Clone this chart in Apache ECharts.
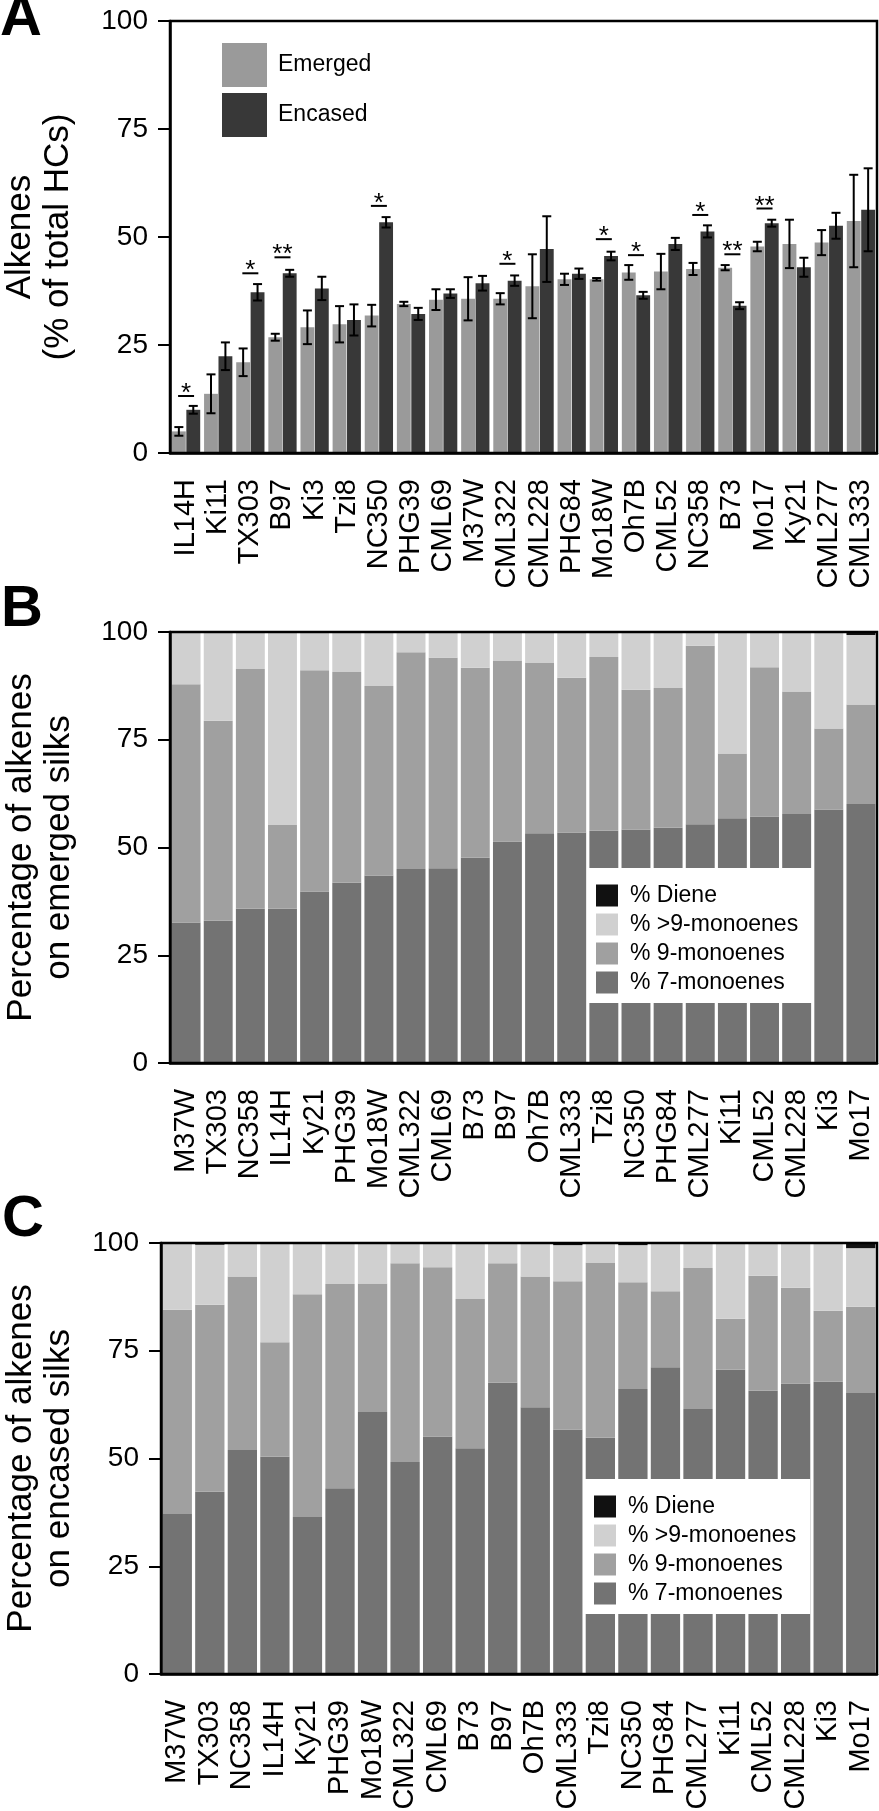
<!DOCTYPE html>
<html><head><meta charset="utf-8">
<script src="https://cdn.jsdelivr.net/npm/echarts@6/dist/echarts.min.js"></script>
<style>html,body{margin:0;padding:0;background:#fff}#c{width:879px;height:1811px}</style>
</head><body><div id="c"></div>
<script>
// ---------- Panel A data ----------
const catsA = ['IL14H','Ki11','TX303','B97','Ki3','Tzi8','NC350','PHG39','CML69','M37W','CML322','CML228','PHG84','Mo18W','Oh7B','CML52','NC358','B73','Mo17','Ky21','CML277','CML333'];
const emerged    = [5.0,13.7,21.0,26.8,29.1,29.8,31.8,34.5,35.5,35.7,35.7,38.6,40.2,40.2,41.8,42.0,42.6,42.9,47.8,48.4,48.7,53.7];
const emergedErr = [1.0,4.5,3.2,0.8,3.9,4.2,2.5,0.5,2.4,5.0,1.3,7.4,1.3,0.3,1.7,4.1,1.4,0.6,1.1,5.6,2.9,10.7];
const encased    = [10.0,22.4,37.2,41.6,38.1,30.8,53.4,32.2,36.9,39.3,39.9,47.2,41.5,45.6,36.5,48.4,51.3,34.1,53.2,43.0,52.6,56.3];
const encasedErr = [0.9,3.2,1.9,0.8,2.7,3.6,1.2,1.4,1.0,1.7,1.2,7.6,1.2,1.0,0.8,1.4,1.4,0.8,0.8,2.2,3.0,9.6];
const sigCats   = ['IL14H','TX303','B97','NC350','CML322','Mo18W','Oh7B','NC358','B73','Mo17'];
const sigLevels = [13.2,41.6,45.3,57.2,43.8,49.5,45.8,55.1,46.0,56.6];
const sigMarks  = ['*','*','**','*','*','*','*','*','**','**'];

// ---------- Panels B & C data ----------
const catsBC = ['M37W','TX303','NC358','IL14H','Ky21','PHG39','Mo18W','CML322','CML69','B73','B97','Oh7B','CML333','Tzi8','NC350','PHG84','CML277','Ki11','CML52','CML228','Ki3','Mo17'];
const emSeven = [32.6,33.0,35.8,35.8,39.8,41.8,43.5,45.0,45.2,47.6,51.4,53.3,53.5,53.9,54.2,54.6,55.4,56.8,57.2,57.8,58.8,60.1];
const emNine  = [55.3,46.4,55.6,19.4,51.3,48.9,44.0,50.3,48.8,44.1,42.0,39.6,35.9,40.3,32.4,32.4,41.4,15.0,34.6,28.4,18.8,23.1];
const emGt9   = [12.1,20.6,8.6,44.8,8.9,9.3,12.5,4.7,6.0,8.3,6.6,7.1,10.6,5.8,13.4,13.0,3.2,28.2,8.2,13.8,22.4,16.1];
const emDiene = [0,0,0,0,0,0,0,0,0,0,0,0,0,0,0,0,0,0,0,0,0,0.7];
const enSeven = [37.1,42.3,52.0,50.4,36.4,43.1,60.8,49.2,55.1,52.4,67.6,61.9,56.7,54.8,66.1,71.2,61.5,70.6,65.7,67.4,67.8,65.2];
const enNine  = [47.4,43.4,40.2,26.6,51.7,47.4,29.8,46.1,39.3,34.6,27.7,30.3,34.4,40.7,24.8,17.6,32.7,11.8,26.7,22.2,16.5,20.0];
const enGt9   = [15.5,13.9,7.8,23.0,11.9,9.5,9.4,4.7,5.6,13.0,4.7,7.8,8.4,4.5,8.6,11.2,5.8,17.6,7.6,10.4,15.7,13.6];
const enDiene = [0,0.4,0,0,0,0,0,0,0,0,0,0,0.5,0,0.5,0,0,0,0,0,0,1.2];
const yTicks = [0,25,50,75,100];

const FONT = '"Liberation Sans", Arial, Helvetica, sans-serif';
const C_EM = '#9a9a9a', C_EN = '#383838';
const C7 = '#737373', C9 = '#a0a0a0', CG = '#d0d0d0', CD = '#111111';
const CAT_GAP = 0.12, BAR_GAP = 0.04;

function errRender(sign){
  return function(params, api){
    const idx = api.value(0), v = api.value(1), e = api.value(2);
    const band = api.size([1,0])[0];
    const w = band*(1-CAT_GAP)/(2+BAR_GAP);
    const dx = sign*(w/2 + w*BAR_GAP/2);
    const c = api.coord([idx, v]);
    const hi = api.coord([idx, v+e]);
    const lo = api.coord([idx, v-e]);
    const x = c[0]+dx, cap = 4.5;
    const st = {stroke:'#000', lineWidth:2};
    return {type:'group', children:[
      {type:'line', shape:{x1:x,y1:hi[1],x2:x,y2:lo[1]}, style:st},
      {type:'line', shape:{x1:x-cap,y1:hi[1],x2:x+cap,y2:hi[1]}, style:st},
      {type:'line', shape:{x1:x-cap,y1:lo[1],x2:x+cap,y2:lo[1]}, style:st}
    ]};
  };
}
function sigRender(params, api){
  const p = api.coord([api.value(0), api.value(1)]);
  const mark = sigMarks[params.dataIndex];
  return {type:'group', children:[
    {type:'line', shape:{x1:p[0]-8,y1:p[1],x2:p[0]+8,y2:p[1]}, style:{stroke:'#000',lineWidth:2}},
    {type:'text', x:p[0], y:p[1]-2, style:{text:mark, fill:'#000', font:'26px '+FONT, align:'center', verticalAlign:'middle'}}
  ]};
}

function xAx(gi, cats){
  return {type:'category', gridIndex:gi, data:cats, z:10,
    axisLine:{lineStyle:{color:'#000', width:2.5}},
    axisTick:{alignWithLabel:true, length:11, lineStyle:{color:'#000', width:2}},
    axisLabel:{interval:0, rotate:90, margin:26, color:'#000', fontSize:29, fontFamily:FONT},
    splitLine:{show:false}};
}
function yAx(gi, name, gap){
  return {type:'value', gridIndex:gi, min:0, max:100, interval:25, z:10,
    name:name, nameLocation:'middle', nameRotate:90, nameGap:gap,
    nameTextStyle:{color:'#000', fontSize:35, fontFamily:FONT, lineHeight:38, align:'center'},
    axisLine:{show:true, lineStyle:{color:'#000', width:2.5}},
    axisTick:{show:true, length:12, lineStyle:{color:'#000', width:2}},
    axisLabel:{margin:22, color:'#000', fontSize:28, fontFamily:FONT,
      formatter:(v)=> yTicks.includes(v) ? String(v) : ''},
    splitLine:{show:false}};
}
const gridBase = {show:true, borderColor:'#000', borderWidth:2.5, containLabel:false, outerBoundsMode:'none', z:10, backgroundColor:'transparent'};

function stackSeries(gi, seven, nine, gt9, diene, stack){
  const mk = (name, data, color) => ({type:'bar', name:name, xAxisIndex:gi, yAxisIndex:gi, stack:stack,
    data:data, barCategoryGap:'10%', itemStyle:{color:color}, emphasis:{disabled:true}});
  return [mk('% 7-monoenes', seven, C7), mk('% 9-monoenes', nine, C9), mk('% >9-monoenes', gt9, CG), mk('% Diene', diene, CD)];
}
const legendBC = (left, top) => ({left:left, top:top, orient:'vertical', backgroundColor:'#fff',
  padding:[16,14,9,9], itemWidth:22, itemHeight:22, itemGap:6, icon:'rect', selectedMode:false,
  data:['% Diene','% >9-monoenes','% 9-monoenes','% 7-monoenes'],
  textStyle:{color:'#000', fontSize:23, fontFamily:FONT, padding:[0,0,0,7]}});

const option = {
  animation:false,
  backgroundColor:'#fff',
  grid:[
    Object.assign({left:170, top:21, width:707, height:432}, gridBase),
    Object.assign({left:170, top:632, width:707, height:431}, gridBase),
    Object.assign({left:161, top:1243, width:716, height:431}, gridBase)
  ],
  xAxis:[xAx(0, catsA), xAx(1, catsBC), xAx(2, catsBC)],
  yAxis:[yAx(0, 'Alkenes\n(% of total HCs)', 93), yAx(1, 'Percentage of alkenes\non emerged silks', 92), yAx(2, 'Percentage of alkenes\non encased silks', 83)],
  legend:[
    {left:222, top:43, orient:'vertical', itemWidth:45, itemHeight:44, itemGap:6, icon:'rect', selectedMode:false,
     padding:0, data:['Emerged','Encased'], textStyle:{color:'#000', fontSize:23, fontFamily:FONT, padding:[0,0,0,6]}},
    legendBC(587, 868),
    legendBC(585, 1479)
  ],
  graphic:[
    {type:'text', left:0, top:-10, style:{text:'A', fontSize:58, fontWeight:'bold', fontFamily:FONT, fill:'#000'}},
    {type:'text', left:1, top:581, style:{text:'B', fontSize:58, fontWeight:'bold', fontFamily:FONT, fill:'#000'}},
    {type:'text', left:2, top:1191, style:{text:'C', fontSize:58, fontWeight:'bold', fontFamily:FONT, fill:'#000'}}
  ],
  series:[
    {type:'bar', name:'Emerged', xAxisIndex:0, yAxisIndex:0, data:emerged, barCategoryGap:(CAT_GAP*100)+'%', barGap:(BAR_GAP*100)+'%', itemStyle:{color:C_EM}, emphasis:{disabled:true}},
    {type:'bar', name:'Encased', xAxisIndex:0, yAxisIndex:0, data:encased, itemStyle:{color:C_EN}, emphasis:{disabled:true}},
    {type:'custom', name:'errEm', xAxisIndex:0, yAxisIndex:0, z:5, renderItem:errRender(-1),
     data:catsA.map((c,i)=>[i, emerged[i], emergedErr[i]])},
    {type:'custom', name:'errEn', xAxisIndex:0, yAxisIndex:0, z:5, renderItem:errRender(1),
     data:catsA.map((c,i)=>[i, encased[i], encasedErr[i]])},
    {type:'custom', name:'sig', xAxisIndex:0, yAxisIndex:0, z:5, renderItem:sigRender,
     data:sigCats.map((c,i)=>[catsA.indexOf(c), sigLevels[i]])}
  ].concat(stackSeries(1, emSeven, emNine, emGt9, emDiene, 'b'))
   .concat(stackSeries(2, enSeven, enNine, enGt9, enDiene, 'c'))
};
const chart = echarts.init(document.getElementById('c'), null, {renderer:'canvas'});
chart.setOption(option);
</script>
</body></html>
